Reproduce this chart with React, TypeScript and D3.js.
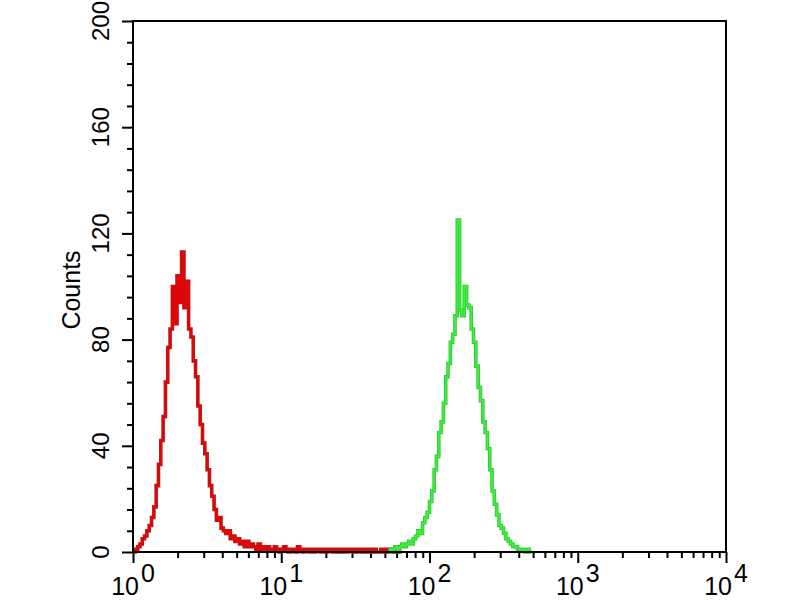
import { useEffect, useRef } from "react";
import * as d3 from "d3";

// histogram channels: 64 per decade over 4 decades (10^0 .. 10^4)
const channelsPerDecade = 64;

// red (control) counts, starting at channel 0
const redCounts = [
  0, 1, 2, 3, 5, 6, 8, 10, 13, 17, 25, 33, 42, 51, 64, 77, 84, 100, 86, 104,
  94, 113, 92, 102, 84, 81, 72, 66, 55, 48, 41, 37, 31, 25, 21, 16, 12, 13, 9, 8,
  7, 8, 5, 6, 4, 5, 3, 4, 2, 4, 2, 3, 2, 1, 3, 1, 2, 1, 2, 1,
  1, 2, 1, 0, 1, 2, 1, 0, 1, 1, 0, 2, 1, 0, 1, 1, 0, 1, 0, 1,
  1, 0, 1, 0, 1, 1, 0, 1, 0, 1, 0, 1, 0, 1, 1, 0, 1, 0, 1, 0,
  1, 0, 1, 0, 1, 0, 0, 1, 0, 1, 0, 1, 0, 0, 1, 0,
];

// green (antibody) counts, starting at channel 108
const greenStart = 110;
const greenCounts = [
  0, 1, 1, 2, 1, 2, 3, 2, 3, 4, 3, 5, 6, 8, 7, 11, 13, 15,
  19, 23, 31, 36, 45, 49, 56, 66, 71, 79, 82, 89, 125, 91, 89, 100, 93, 92, 84, 79,
  70, 62, 57, 49, 45, 39, 31, 23, 18, 14, 10, 9, 7, 5, 4, 3, 2, 2, 1, 1,
  1, 0, 1, 0,
];

const yMajor = [0, 40, 80, 120, 160, 200];
const yMinorStep = 8;
const xDecades = [0, 1, 2, 3, 4];

const W = 800;
const H = 600;
const left = 133;
const right = 726;
const top = 21;
const bottom = 552;
const font = "'Liberation Sans', Arial, sans-serif";

const App = () => {
  const ref = useRef<SVGSVGElement | null>(null);

  useEffect(() => {
    if (!ref.current) return;
    const svg = d3.select(ref.current);
    svg.selectAll("*").remove();

    const x = d3.scaleLog().domain([1, 10000]).range([left, right]);
    const y = d3.scaleLinear().domain([0, 200]).range([bottom, top]);

    svg.append("rect").attr("width", W).attr("height", H).attr("fill", "white");

    // minor ticks
    const yMinor = d3.range(0, 201, yMinorStep).filter(v => v % 40 !== 0);
    const xMinor: number[] = [];
    for (let d = 0; d < 4; d++) for (let k = 2; k <= 9; k++) xMinor.push(k * Math.pow(10, d));

    const yMin = svg.append("g").attr("transform", `translate(${left},0)`)
      .call(d3.axisLeft(y).tickValues(yMinor).tickSize(6).tickFormat(() => ""));
    const yMaj = svg.append("g").attr("transform", `translate(${left},0)`)
      .call(d3.axisLeft(y).tickValues(yMajor).tickSize(11).tickFormat(() => ""));
    const xMin = svg.append("g").attr("transform", `translate(0,${bottom})`)
      .call(d3.axisBottom(x).tickValues(xMinor).tickSize(6).tickFormat(() => ""));
    const xMaj = svg.append("g").attr("transform", `translate(0,${bottom})`)
      .call(d3.axisBottom(x).tickValues(xDecades.map(d => Math.pow(10, d))).tickSize(11).tickFormat(() => ""));
    [yMin, yMaj, xMin, xMaj].forEach(g => {
      g.select(".domain").remove();
      g.selectAll("line").attr("stroke", "#000").attr("stroke-width", 2);
    });

    // histograms as step lines
    const line = d3.line<[number, number]>()
      .x(d => x(Math.pow(10, d[0] / channelsPerDecade)))
      .y(d => y(d[1]))
      .curve(d3.curveStepAfter);

    const toPts = (counts: number[], start: number): [number, number][] => {
      const pts: [number, number][] = counts.map((c, i) => [start + i, c]);
      pts.push([start + counts.length, counts[counts.length - 1]]);
      return pts;
    };

    const series = [
      { pts: toPts(redCounts, 0), dark: "#b01a1a", bright: "#f00000" },
      { pts: toPts(greenCounts, greenStart), dark: "#30cc30", bright: "#40f040" },
    ];
    series.forEach(s => {
      svg.append("path").attr("d", line(s.pts)!).attr("fill", "none")
        .attr("stroke", s.dark).attr("stroke-width", 3.6);
      svg.append("path").attr("d", line(s.pts)!).attr("fill", "none")
        .attr("stroke", s.bright).attr("stroke-width", 1.6);
    });

    // frame
    svg.append("rect")
      .attr("x", left).attr("y", top)
      .attr("width", right - left).attr("height", bottom - top)
      .attr("fill", "none").attr("stroke", "#000").attr("stroke-width", 2);

    // y labels
    svg.append("g").selectAll("text").data(yMajor).enter().append("text")
      .attr("transform", d => `translate(109,${y(d)}) rotate(-90)`)
      .attr("text-anchor", "middle")
      .attr("font-family", font).attr("font-size", 24).attr("fill", "#000")
      .text(d => String(d));

    // x labels
    const xl = svg.append("g").selectAll("text").data(xDecades).enter().append("text")
      .attr("x", d => x(Math.pow(10, d)))
      .attr("y", 595)
      .attr("text-anchor", "middle")
      .attr("font-family", font).attr("font-size", 25).attr("fill", "#000");
    xl.append("tspan").text("10");
    xl.append("tspan").attr("dy", -13).attr("dx", 2).text(d => String(d));

    svg.append("text")
      .attr("transform", "translate(80,290) rotate(-90)")
      .attr("text-anchor", "middle")
      .attr("font-family", font).attr("font-size", 25).attr("fill", "#000")
      .text("Counts");
  }, []);

  return (
    <svg
      ref={ref}
      width={W}
      height={H}
      style={{ position: "fixed", top: 0, left: 0, display: "block" }}
    />
  );
};

export default App;
